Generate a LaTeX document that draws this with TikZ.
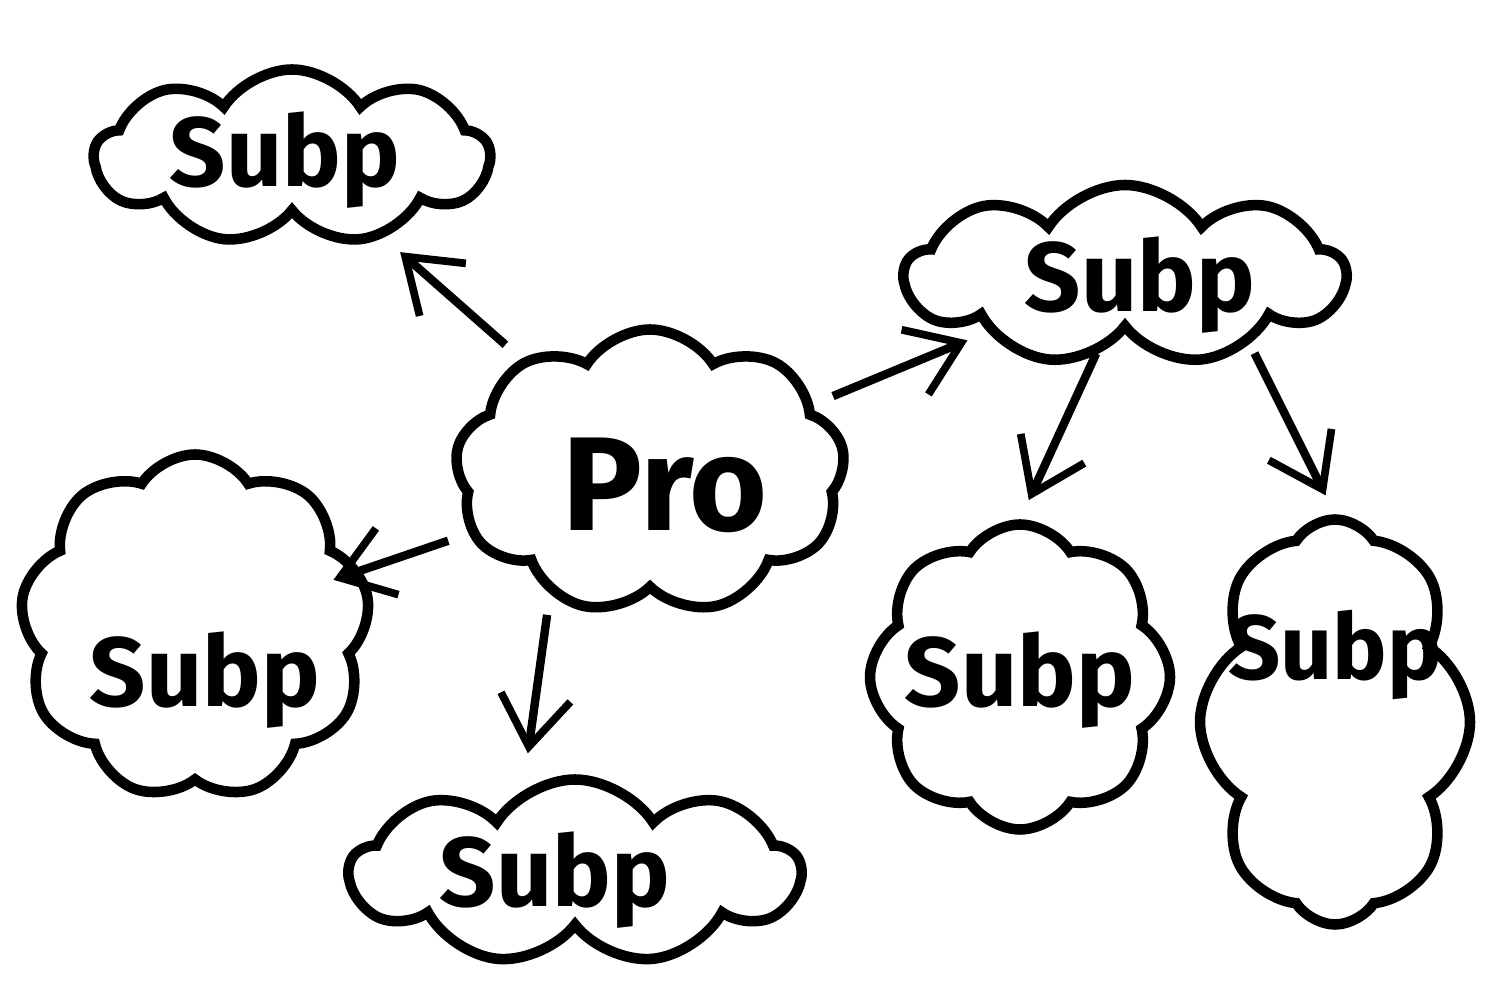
\documentclass[tikz,border=0pt]{standalone}
\usepackage{fontspec}
\setmainfont{Fira Sans}
\usepackage{tikz}
\usetikzlibrary{arrows.meta, shapes.symbols, positioning}

\tikzset{
  blob/.style={cloud, cloud puffs=9, cloud puff arc=115, cloud ignores aspect,
               draw=black, line width=3pt, fill=white, inner sep=0pt},
  word/.style={font=\fontsize{28}{32}\selectfont\bfseries, inner sep=1pt},
  arr/.style={-{Straight Barb[length=5mm, width=7mm, line width=2.2pt]},
              line width=2.4pt, shorten >=6pt, shorten <=6pt}
}

\begin{document}
\begin{tikzpicture}
  \useasboundingbox (0,0) rectangle (14.9,9.85);

  % clouds
  \node[blob, minimum width=3.9cm, minimum height=2.85cm] (pro) at (6.50,5.13) {};
  \node[blob, minimum width=3.95cm, minimum height=1.75cm] (tl) at (2.92,8.28) {};
  \node[blob, minimum width=4.4cm, minimum height=1.8cm] (tr) at (11.25,7.10) {};
  \node[blob, minimum width=3.5cm, minimum height=3.45cm] (lf) at (1.95,3.58) {};
  \node[blob, minimum width=4.5cm, minimum height=1.85cm] (bt) at (5.75,1.13) {};
  \node[blob, cloud puffs=8, minimum width=3.0cm, minimum height=3.05cm] (mr) at (10.20,3.08) {};
  \node[blob, cloud puffs=8, minimum width=2.7cm, minimum height=4.05cm] (fr) at (13.35,2.63) {};

  % labels
  \node[word, font=\fontsize{38}{42}\selectfont\bfseries] (pro-t) at (6.65,5.00) {Pro};
  \node[word] (tl-t) at (2.85,8.25) {Subp};
  \node[word] (tr-t) at (11.40,7.00) {Subp};
  \node[word] (lf-t) at (2.05,3.05) {Subp};
  \node[word] (bt-t) at (5.55,1.05) {Subp};
  \node[word] (mr-t) at (10.20,3.05) {Subp};
  \node[word, font=\fontsize{26}{30}\selectfont\bfseries] (fr-t) at (13.35,3.30) {Subp};

  % arrows
  \draw[arr] (pro) -- (tl);
  \draw[arr] (pro) -- (tr);
  \draw[arr, shorten >=-3mm] (pro) -- (lf);
  \draw[arr] ([xshift=-1cm]pro.south) -- ([xshift=-0.5cm]bt.north);
  \draw[arr] ([xshift=-2mm]tr.south) -- (mr.north);
  \draw[arr] ([xshift=12mm]tr.south) -- (fr.north);
\end{tikzpicture}
\end{document}
